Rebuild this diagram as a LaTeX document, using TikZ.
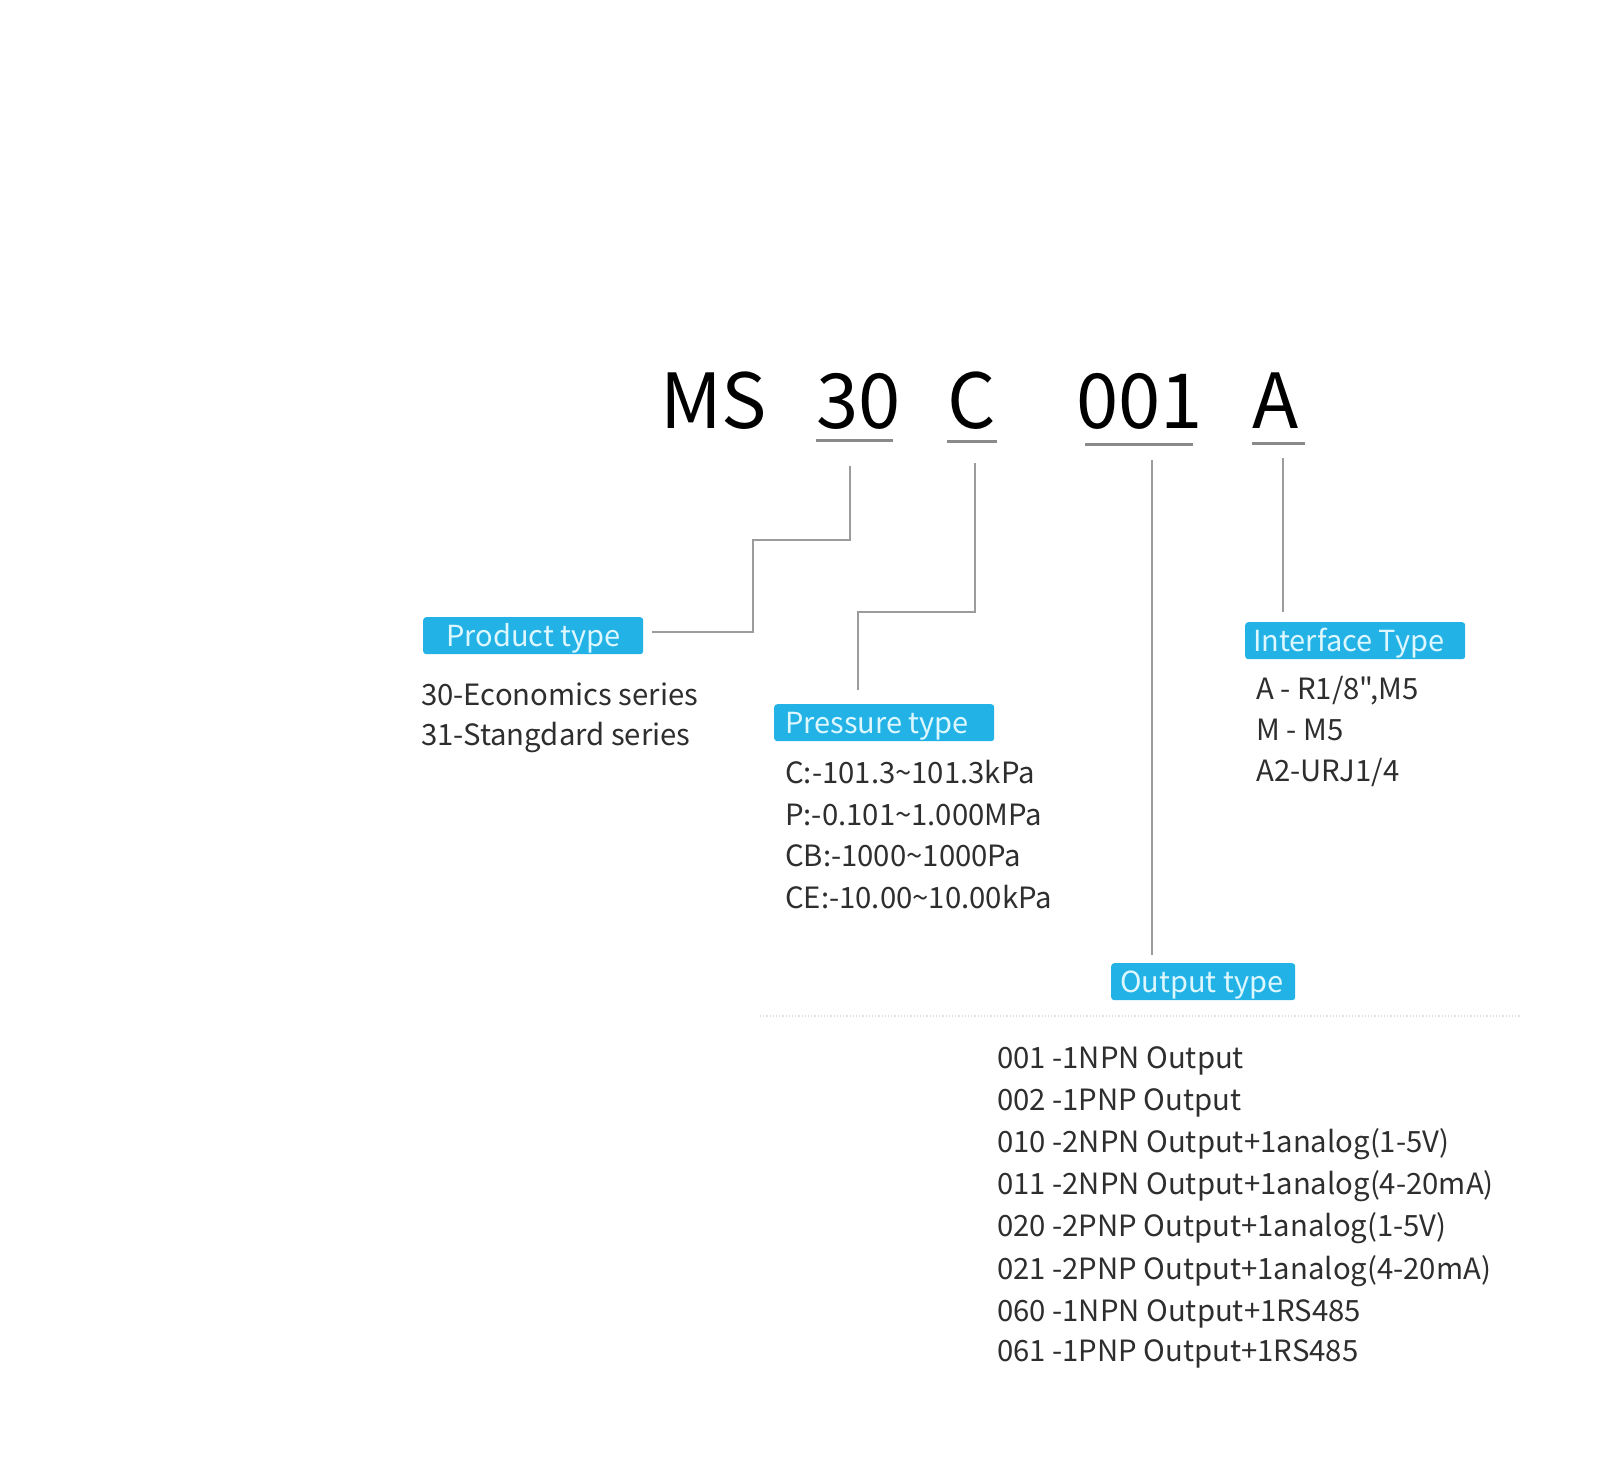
\documentclass[tikz,border=0pt]{standalone}
\usepackage{fontspec}
\setmainfont{Noto Sans CJK SC}
\newfontfamily\rawfont{Noto Sans CJK SC}[Ligatures=TeXOff]
\definecolor{tagblue}{HTML}{22B2E6}
\definecolor{tagfg}{HTML}{DDF7FF}
\definecolor{bodyfg}{HTML}{2E2E2E}
\definecolor{linefg}{HTML}{9C9C9C}
\definecolor{ulfg}{HTML}{8A8A8A}
\tikzset{
  tagbox/.style={fill=tagblue, rounded corners=3pt, draw=none, anchor=north west, minimum height=37pt, inner sep=0pt},
  tagtext/.style={text=tagfg, font=\fontsize{29}{30}\selectfont, anchor=base west, inner sep=0pt},
  bodytext/.style={text=bodyfg, font=\fontsize{29.3}{30}\selectfont, anchor=base west, inner sep=0pt},
  titletext/.style={text=black, font=\fontsize{76}{76}\selectfont, anchor=base west, inner sep=0pt},
  conn/.style={draw=linefg, line width=2pt},
  uline/.style={draw=ulfg, line width=3pt},
}
\begin{document}
\begin{tikzpicture}[x=1pt,y=-1pt]
\useasboundingbox (0,0) rectangle (1600,1479);
\fill[white] (0,0) rectangle (1600,1479);

% title
\node[titletext] (ms) at (660,428) {MS};
\node[titletext] (t30) at (816,428) {30};
\node[titletext] (tc) at (947,428) {C};
\node[titletext] (t001) at (1076,428) {001};
\node[titletext] (ta) at (1252,428) {A};

% underlines
\coordinate (u30a) at (816,440); \coordinate (u30b) at (893,440);
\coordinate (uca) at (947,441); \coordinate (ucb) at (997,441);
\coordinate (u001a) at (1085,444); \coordinate (u001b) at (1193,444);
\coordinate (uaa) at (1252,443); \coordinate (uab) at (1305,443);
\draw[uline] (u30a) -- (u30b);
\draw[uline] (uca) -- (ucb);
\draw[uline] (u001a) -- (u001b);
\draw[uline] (uaa) -- (uab);

% tag boxes
\node[tagbox, minimum width=220pt] (prodbox) at (423,617) {};
\node[tagtext] (prodlbl) at (446,646) {Product type};
\node[tagbox, minimum width=220pt] (presbox) at (774,704) {};
\node[tagtext] (preslbl) at (785,733) {Pressure type};
\node[tagbox, minimum width=220pt] (intbox) at (1245,622) {};
\node[tagtext] (intlbl) at (1253,651) {Interface Type};
\node[tagbox, minimum width=184pt] (outbox) at (1111,963) {};
\node[tagtext] (outlbl) at (1120,992) {Output type};

% connectors
\coordinate (c30top) at (850,466);
\coordinate (c30a) at (850,540);
\coordinate (c30b) at (753,540);
\coordinate (c30c) at (753,632);
\coordinate (c30end) at (652,632);
\draw[conn] (c30top) -- (c30a) -- (c30b) -- (c30c) -- (c30end);

\coordinate (cctop) at (975,463);
\coordinate (cca) at (975,612);
\coordinate (ccb) at (858,612);
\coordinate (ccend) at (858,690);
\draw[conn] (cctop) -- (cca) -- (ccb) -- (ccend);

\coordinate (c001top) at (1152,460);
\coordinate (c001end) at (1152,955);
\draw[conn] (c001top) -- (c001end);

\coordinate (catop) at (1283,458);
\coordinate (caend) at (1283,612);
\draw[conn] (catop) -- (caend);

% faint dotted rule
\coordinate (dla) at (760,1016);
\coordinate (dlb) at (1520,1016);
\draw[draw=black!12, line width=1.2pt, dotted] (dla) -- (dlb);

% product lines
\node[bodytext] (p1) at (421,705) {30-Economics series};
\node[bodytext] (p2) at (421,745) {31-Stangdard series};

% pressure lines
\node[bodytext] (r1) at (785,783) {C:-101.3\textasciitilde101.3kPa};
\node[bodytext] (r2) at (785,825) {P:-0.101\textasciitilde1.000MPa};
\node[bodytext] (r3) at (785,866) {CB:-1000\textasciitilde1000Pa};
\node[bodytext] (r4) at (785,908) {CE:-10.00\textasciitilde10.00kPa};

% interface lines
\node[bodytext] (i1) at (1256,699) {\rawfont A - R1/8",M5};
\node[bodytext] (i2) at (1256,740) {M - M5};
\node[bodytext] (i3) at (1256,781) {A2-URJ1/4};

% output lines
\node[bodytext] (o1) at (997,1068) {001 -1NPN Output};
\node[bodytext] (o2) at (997,1110) {002 -1PNP Output};
\node[bodytext] (o3) at (997,1152) {010 -2NPN Output+1analog(1-5V)};
\node[bodytext] (o4) at (997,1194) {011 -2NPN Output+1analog(4-20mA)};
\node[bodytext] (o5) at (997,1236) {020 -2PNP Output+1analog(1-5V)};
\node[bodytext] (o6) at (997,1279) {021 -2PNP Output+1analog(4-20mA)};
\node[bodytext] (o7) at (997,1321) {060 -1NPN Output+1RS485};
\node[bodytext] (o8) at (997,1361) {061 -1PNP Output+1RS485};
\end{tikzpicture}
\end{document}
